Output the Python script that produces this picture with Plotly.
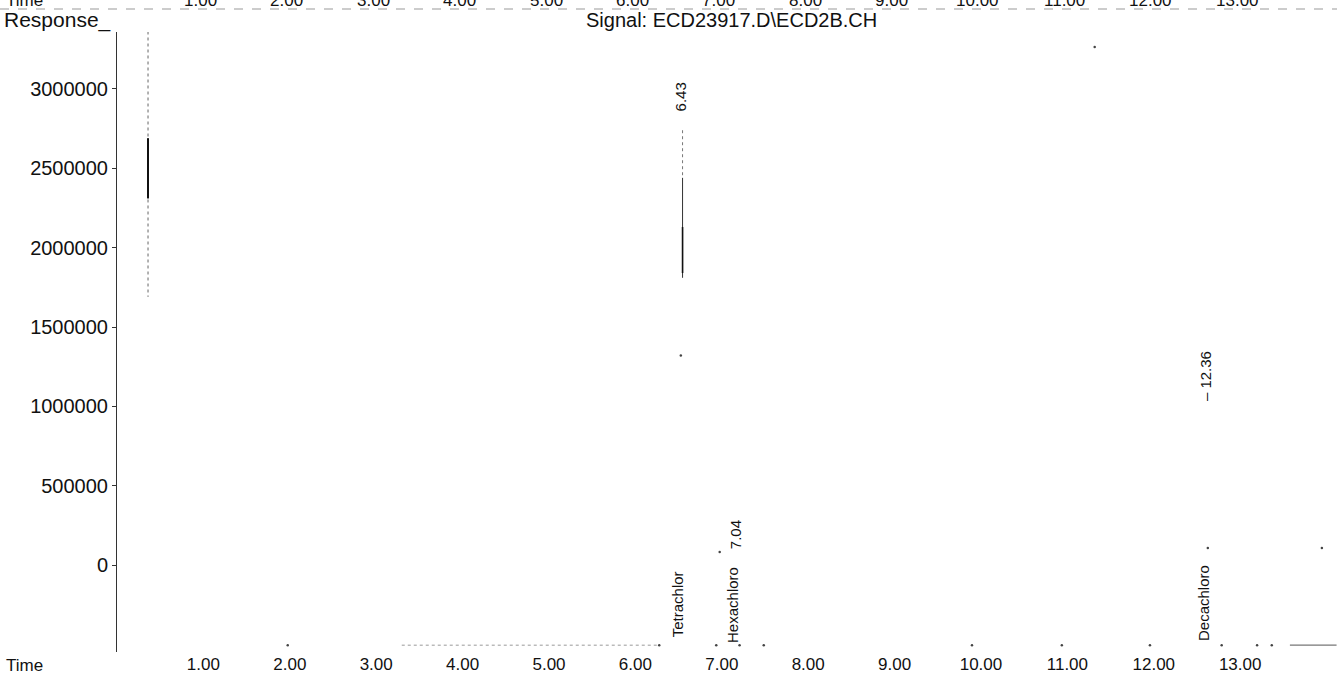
import plotly.graph_objects as go

# ---------------- data ----------------
x_tick_vals = [1, 2, 3, 4, 5, 6, 7, 8, 9, 10, 11, 12, 13]
x_tick_text = ["1.00", "2.00", "3.00", "4.00", "5.00", "6.00", "7.00",
               "8.00", "9.00", "10.00", "11.00", "12.00", "13.00"]
y_tick_vals = [0, 500000, 1000000, 1500000, 2000000, 2500000, 3000000]
y_tick_text = ["0", "500000", "1000000", "1500000", "2000000", "2500000", "3000000"]

peak_times = [6.43, 7.04, 12.36]
peak_rt_text = ["6.43", "7.04", "– 12.36"]
peak_rt_resp = [2950000, 190000, 1190000]
peak_names = ["Tetrachlor", "Hexachloro", "Decachloro"]
peak_name_resp = [-250000, -250000, -240000]

# visible fragments of the (faded) chromatogram trace
solvent_time = [0.243, 0.243]
solvent_faint_resp = [3400000, 1690000]
solvent_dense_resp = [2690000, 2310000]

peak1_time = [6.43, 6.43]
peak1_faint_resp = [2740000, 2440000]
peak1_solid_resp = [2440000, 1810000]
peak1_dense_resp = [2130000, 1840000]

baseline_dotted_time = [3.18, 6.15]
baseline_dotted_resp = [-505000, -505000]
baseline_tail_time = [13.46, 14.0]
baseline_tail_resp = [-505000, -505000]

speck_time = [1.86, 6.16, 6.82, 7.09, 7.37, 9.78, 10.82, 11.84, 12.67, 13.08, 13.25,
              11.20, 13.83, 12.51, 6.86, 6.41]
speck_resp = [-505000, -505000, -505000, -505000, -505000, -505000, -505000, -505000,
              -505000, -505000, -505000, 3265000, 107000, 107000, 82000, 1320000]

signal_title = "Signal: ECD23917.D\\ECD2B.CH"

# ---------------- figure ----------------
FONT = "Liberation Sans, Arial, sans-serif"
fig = go.Figure()

def seg(t, r, color, width, dash="solid"):
    fig.add_trace(go.Scatter(x=t, y=r, mode="lines",
                             line=dict(color=color, width=width, dash=dash),
                             hoverinfo="skip", showlegend=False))

seg(solvent_time, solvent_faint_resp, "#666", 1, "dot")
seg(solvent_time, solvent_dense_resp, "#111", 2)
seg(peak1_time, peak1_faint_resp, "#777", 1, "dot")
seg(peak1_time, peak1_solid_resp, "#333", 1)
seg(peak1_time, peak1_dense_resp, "#111", 1.6)
seg(baseline_dotted_time, baseline_dotted_resp, "#999", 1, "dot")
seg(baseline_tail_time, baseline_tail_resp, "#777", 1.2)

fig.add_trace(go.Scatter(x=speck_time, y=speck_resp, mode="markers",
                         marker=dict(color="#444", size=2.5),
                         hoverinfo="skip", showlegend=False))

annotations = []
# retention time labels and compound names (rotated)
xs_rt = [-2, 1, 10]
xs_nm = [-5, -3, 8]
for t, txt, r, dx in zip(peak_times, peak_rt_text, peak_rt_resp, xs_rt):
    annotations.append(dict(x=t, y=r, xref="x", yref="y", text=txt, textangle=-90,
                            showarrow=False, xshift=dx,
                            font=dict(family=FONT, size=15, color="#111")))
for t, txt, r, dx in zip(peak_times, peak_names, peak_name_resp, xs_nm):
    annotations.append(dict(x=t, y=r, xref="x", yref="y", text=txt, textangle=-90,
                            showarrow=False, xshift=dx,
                            font=dict(family=FONT, size=15, color="#111")))

# header texts
annotations.append(dict(x=0, y=1, xref="paper", yref="paper", text="Response_",
                        xanchor="left", yanchor="middle", xshift=-115, yshift=12,
                        showarrow=False, font=dict(family=FONT, size=21, color="#111")))
annotations.append(dict(x=0.504, y=1, xref="paper", yref="paper", text=signal_title,
                        xanchor="center", yanchor="middle", yshift=12,
                        showarrow=False, font=dict(family=FONT, size=20, color="#111")))
# bottom "Time" label
annotations.append(dict(x=0, y=0, xref="paper", yref="paper", text="Time",
                        xanchor="left", yanchor="middle", xshift=-113, yshift=-13,
                        showarrow=False, font=dict(family=FONT, size=17, color="#111")))
# cut-off axis labels of the panel above (only lower half visible, as in the scan)
annotations.append(dict(x=0, y=1, xref="paper", yref="paper", text="Time",
                        xanchor="left", yanchor="middle", xshift=-113, yshift=32,
                        showarrow=False, font=dict(family=FONT, size=17, color="#111")))
for v, txt in zip(x_tick_vals, x_tick_text):
    annotations.append(dict(x=v, y=1, xref="x", yref="paper", text=txt,
                            xanchor="center", yanchor="middle", xshift=-13, yshift=32,
                            showarrow=False, font=dict(family=FONT, size=17, color="#111")))

fig.update_layout(
    width=1337, height=680,
    margin=dict(l=117, r=0, t=32, b=28),
    paper_bgcolor="white", plot_bgcolor="white",
    showlegend=False,
    annotations=annotations,
    shapes=[dict(type="line", xref="paper", yref="paper",
                 x0=-117 / 1220, x1=1, y0=1 + 23 / 620, y1=1 + 23 / 620,
                 line=dict(color="#999", width=1.2, dash="dash"))],
    xaxis=dict(range=[-0.116, 14.005], showgrid=False, zeroline=False,
               showline=False, ticks="", tickvals=x_tick_vals, ticktext=x_tick_text,
               ticklabelshift=-10,
               tickfont=dict(family=FONT, size=17, color="#111")),
    yaxis=dict(range=[-548000, 3359000], showgrid=False, zeroline=False,
               showline=True, linecolor="#333", linewidth=1,
               ticks="outside", ticklen=4, tickcolor="#333",
               tickvals=y_tick_vals, ticktext=y_tick_text,
               tickfont=dict(family=FONT, size=20, color="#111")),
)

fig.write_html("out.html", config={"displayModeBar": False},
               post_script="document.body.style.margin='0';document.body.style.overflow='hidden';")
